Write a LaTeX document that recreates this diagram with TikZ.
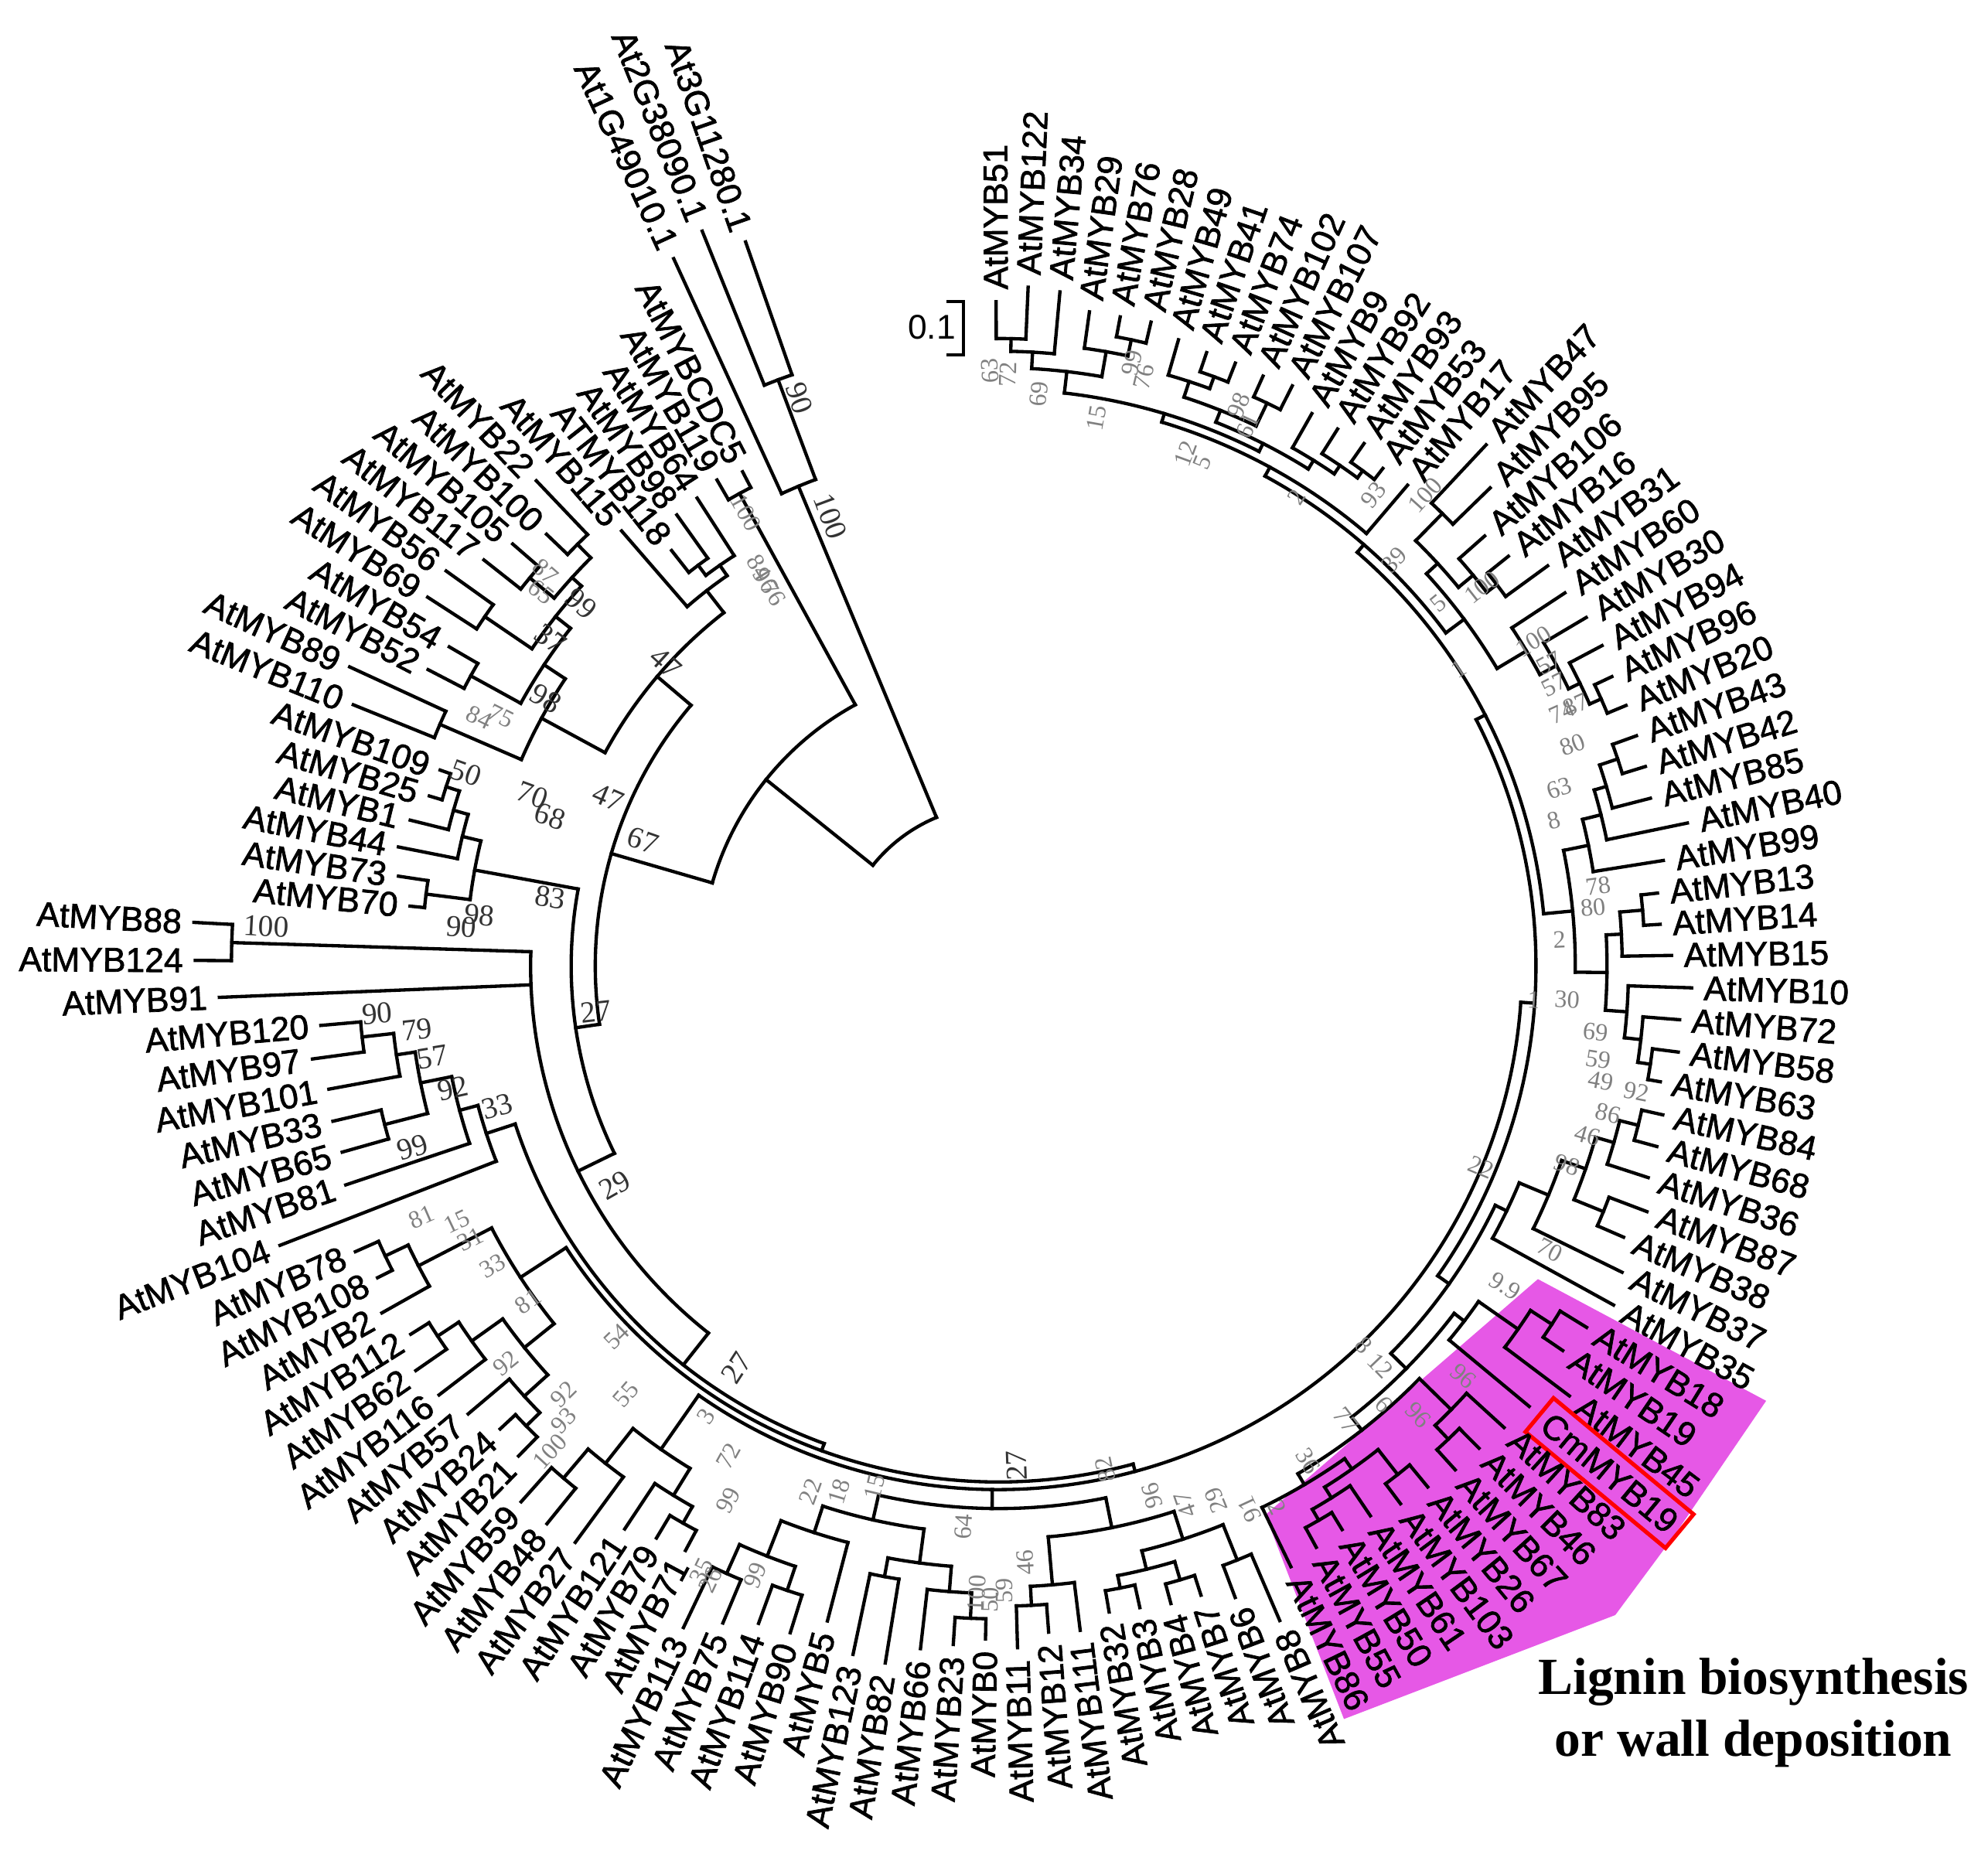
\documentclass[tikz,border=0pt]{standalone}
\usepackage{fontspec}
\setmainfont{Liberation Sans}
\newfontfamily\labfont[FakeBold=1.6]{Liberation Sans}
\newfontfamily\serifnum{Liberation Serif}
\definecolor{mag}{RGB}{230,88,230}
\newcommand\tang[1]{90.2-((#1)-1)*2.706}
\newcommand\tp[1]{(\csname LR#1\endcsname-9)}
\newcommand\nd[2]{%
  \foreach \ii/\rr [count=\k] in {#2}{%
    \pgfmathsetmacro\rrv{\rr}%
    \pgfmathsetmacro\aav{\tang{\ii}}%
    \draw[br] (\aav:#1) -- (\aav:\rrv);
    \ifnum\k=1 \xdef\cfirst{\aav}\fi
    \xdef\clast{\aav}%
  }%
  \draw[br] (\cfirst:#1) arc[start angle=\cfirst, end angle=\clast, radius=#1];%
}
\newcommand\bsn[4][bs]{%
  \pgfmathsetmacro\bph{atan2(762-#3,#2-787.5)}%
  \pgfmathsetmacro\brot{(\bph>95||\bph<-65)?\bph+180:\bph}%
  \node[#1,rotate=\brot] at (#2,-#3) {#4};}
\begin{document}
\begin{tikzpicture}[x=0.01cm,y=0.01cm,
  br/.style={line width=0.75pt, line cap=rect},
  lab/.style={font=\labfont\fontsize{7.7}{9}\selectfont, inner sep=0pt},
  bs/.style={font=\serifnum\fontsize{5.6}{6}\selectfont, text=black!50, inner sep=0pt},
  bsd/.style={font=\serifnum\fontsize{6.8}{7}\selectfont, text=black!80, inner sep=0pt},
  redbox/.style={draw=red, line width=0.9pt, inner xsep=1.8pt, inner ysep=2.2pt}]
\useasboundingbox (0,0) rectangle (1568,-1462);
\fill[mag] (1213,-1009) -- (1393,-1105) -- (1320,-1212) -- (1274,-1274) -- (1060,-1356) -- (998,-1195) -- cycle;
\begin{scope}[shift={(787.5,-762)}]
\foreach \nm/\R [count=\i] in {AtMYB51/533,AtMYB122/545,AtMYB34/543,AtMYB29/530,AtMYB76/530,AtMYB28/531,AtMYB49/523,AtMYB41/520,AtMYB74/520,AtMYB102/519,AtMYB107/522,AtMYB9/510,AtMYB92/510,AtMYB93/512,AtMYB53/505,AtMYB17/507,AtMYB47/572,AtMYB95/550,AtMYB106/521,AtMYB16/525,AtMYB31/545,AtMYB60/544,AtMYB30/548,AtMYB94/548,AtMYB96/544,AtMYB20/545,AtMYB43/544,AtMYB42/543,AtMYB85/540,AtMYB40/564,AtMYB99/540,AtMYB13/532,AtMYB14/532,AtMYB15/540,AtMYB10/556,AtMYB72/548,AtMYB58/549.5,AtMYB63/539,AtMYB84/546,AtMYB68/547.5,AtMYB36/548,AtMYB87/556,AtMYB38/546.5,AtMYB37/557,AtMYB35/563,AtMYB18/553.5,AtMYB19/547.6,AtMYB45/572.7,CmMYB19/553,AtMYB83/549,AtMYB46/546,AtMYB67/545.4,AtMYB26/541.5,AtMYB103/538.6,AtMYB61/532.6,AtMYB50/529.7,AtMYB55/531.6,AtMYB86/536,AtMYB8/571,AtMYB6/541,AtMYB7/530.4,AtMYB4/530,AtMYB3/527.3,AtMYB32/526,AtMYB111/537,AtMYB12/536,AtMYB11/547,AtMYB0/540,AtMYB23/545.4,AtMYB66/551,AtMYB82/566,AtMYB123/564,AtMYB5/543,AtMYB90/560,AtMYB114/561,AtMYB75/571,AtMYB113/587,AtMYB71/532,AtMYB79/534.7,AtMYB121/542,AtMYB27/573,AtMYB48/575,AtMYB59/575,AtMYB21/550,AtMYB24/545.5,AtMYB57/556.5,AtMYB116/565,AtMYB62/568.5,AtMYB112/556,AtMYB2/567,AtMYB108/557,AtMYB78/564,AtMYB104/617,AtMYB81/552,AtMYB65/547,AtMYB33/548,AtMYB101/546,AtMYB97/555,AtMYB120/545.5,AtMYB91/624,AtMYB124/642.5,AtMYB88/644.5,AtMYB70/475.5,AtMYB73/487.5,AtMYB44/491.5,AtMYB1/487,AtMYB25/477.5,AtMYB109/475.7,AtMYB110/558,AtMYB89/572.5,AtMYB52/516,AtMYB54/510,AtMYB69/545,AtMYB56/544.6,AtMYB117/526,AtMYB105/516.5,AtMYB100/502,AtMYB22/537.6,AtMYB115/463,ATMYB118/426,AtMYB98/446,AtMYB64/448,AtMYB119/452,AtMYBCDC5/448,At1G49010.1/623,At2G38090.1/634,At3G11280.1/614}{%
  \expandafter\xdef\csname LR\i\endcsname{\R}%
  \pgfmathsetmacro\th{\tang{\i}}%
  \ifnum\i=49 \tikzset{cur/.style={redbox}}\else\tikzset{cur/.style={}}\fi
  \ifnum\i<59
    \node[lab,cur,anchor=west,rotate=\th] (L\i) at (\th:\R) {\nm};
  \else
    \pgfmathsetmacro\thh{\th+180}%
    \node[lab,anchor=east,rotate=\thh] (L\i) at (\th:\R) {\nm};
  \fi
}
% outgroup and root
\nd{494}{126/\tp{126},127/\tp{127}}
\nd{410}{125/\tp{125},126.5/494}
\nd{127}{125.75/410,115.17/235}
% ingroup
\nd{235}{123.5/425,106.84/318}
\nd{425}{123/\tp{123},124/\tp{124}}
\nd{318}{115.75/353,97.78/337}
\nd{353}{111.375/410,120.125/375}
\nd{410}{109.5/480,113.25/430}
\nd{480}{109/\tp{109},110/\tp{110}}
\nd{430}{111.5/475,115/445}
\nd{475}{111/\tp{111},112/\tp{112}}
\nd{445}{113.5/490,116.5/455}
\nd{490}{113/\tp{113},114/\tp{114}}
\nd{455}{115.5/480,117.5/470}
\nd{480}{115/\tp{115},116/\tp{116}}
\nd{470}{117/\tp{117},118/\tp{118}}
\nd{375}{119/\tp{119},121.25/385}
\nd{385}{120.5/395,122/\tp{122}}
\nd{395}{120/\tp{120},121/\tp{121}}
\nd{337}{104.69/420,91.24/369}
\nd{420}{103.5/455,105.875/435}
\nd{455}{103/\tp{103},104/\tp{104}}
\nd{435}{105/\tp{105},106.75/447}
\nd{447}{106/\tp{106},107.5/458}
\nd{458}{107/\tp{107},108/\tp{108}}
\nd{369}{101.5/605,100/\tp{100},81.75/401}
\nd{605}{101/\tp{101},102/\tp{102}}
\nd{401}{94.16/425,75/407}
\nd{425}{93/\tp{93},95.31/440}
\nd{440}{94/\tp{94},96.625/465}
\nd{465}{95.5/500,97.75/480}
\nd{500}{95/\tp{95},96/\tp{96}}
\nd{480}{97/\tp{97},98.5/505}
\nd{505}{98/\tp{98},99/\tp{99}}
\nd{407}{88.625/450,62/413}
\nd{450}{86.5/480,90.75/515}
\nd{480}{85.25/505,87.75/510}
\nd{505}{84.5/520,86/\tp{86}}
\nd{520}{84/\tp{84},85/\tp{85}}
\nd{510}{87/\tp{87},88.5/530}
\nd{530}{88/\tp{88},89/\tp{89}}
\nd{515}{90/\tp{90},91.5/535}
\nd{535}{91/\tp{91},92/\tp{92}}
\nd{413}{80.5/465,67.84/428,35.8/424}
\nd{465}{79.25/490,81.75/500}
\nd{490}{78.5/505,80/\tp{80}}
\nd{505}{78/\tp{78},79/\tp{79}}
\nd{500}{81/\tp{81},82.5/530}
\nd{530}{82/\tp{82},83/\tp{83}}
\nd{428}{72.31/448,63.375/452}
\nd{448}{74.25/470,70.375/475}
\nd{470}{73/\tp{73},75.5/500}
\nd{500}{74.5/520,76.5/525}
\nd{520}{74/\tp{74},75/\tp{75}}
\nd{525}{76/\tp{76},77/\tp{77}}
\nd{475}{69.25/495,71.5/490}
\nd{495}{68.5/515,70/\tp{70}}
\nd{515}{68/\tp{68},69/\tp{69}}
\nd{490}{71/\tp{71},72/\tp{72}}
\nd{452}{65.75/490,61/475}
\nd{490}{65/\tp{65},66.5/505}
\nd{505}{66/\tp{66},67/\tp{67}}
\nd{475}{59.5/505,62.5/490}
\nd{505}{59/\tp{59},60/\tp{60}}
\nd{490}{61.5/505,63.5/500}
\nd{505}{61/\tp{61},62/\tp{62}}
\nd{500}{63/\tp{63},64/\tp{64}}
\nd{424}{47.34/435,24.25/432}
\nd{435}{43.84/445,50.83/452}
\nd{445}{42.69/470,45/\tp{45}}
\nd{470}{41.375/490,44/\tp{44}}
\nd{490}{40.25/505,42.5/515}
\nd{505}{39.5/520,41/\tp{41}}
\nd{520}{39/\tp{39},40/\tp{40}}
\nd{515}{42/\tp{42},43/\tp{43}}
\nd{452}{48.125/462,53.53/465}
\nd{462}{47.25/500,49/\tp{49}}
\nd{500}{46.5/520,48/\tp{48}}
\nd{520}{46/\tp{46},47/\tp{47}}
\nd{465}{50.75/500,56.31/475}
\nd{500}{50/\tp{50},51.5/515}
\nd{515}{51/\tp{51},52/\tp{52}}
\nd{475}{54.625/485,58/\tp{58}}
\nd{485}{53.5/510,55.75/495}
\nd{510}{53/\tp{53},54/\tp{54}}
\nd{495}{55/\tp{55},56.5/505}
\nd{505}{56/\tp{56},57/\tp{57}}
\nd{432}{32.31/455,16.2/440}
\nd{455}{30.06/475,34.56/480}
\nd{475}{29.125/490,31/\tp{31}}
\nd{490}{28.25/500,30/\tp{30}}
\nd{500}{27.5/515,29/\tp{29}}
\nd{515}{27/\tp{27},28/\tp{28}}
\nd{480}{33.25/492,35.875/497}
\nd{492}{32.5/510,34/\tp{34}}
\nd{510}{32/\tp{32},33/\tp{33}}
\nd{497}{35/\tp{35},36.75/510}
\nd{510}{36/\tp{36},37.5/520}
\nd{520}{37/\tp{37},38/\tp{38}}
\nd{440}{20.78/458,11.625/448}
\nd{458}{18.625/470,22.94/485}
\nd{470}{17.5/500,19.75/485}
\nd{500}{17/\tp{17},18/\tp{18}}
\nd{485}{19/\tp{19},20.5/495}
\nd{495}{20/\tp{20},21/\tp{21}}
\nd{485}{22/\tp{22},23.875/500}
\nd{500}{23/\tp{23},24.75/510}
\nd{510}{24/\tp{24},25.5/520}
\nd{520}{25/\tp{25},26/\tp{26}}
\nd{448}{7.25/455,16/\tp{16}}
\nd{455}{3.5/472,11/462}
\nd{472}{2.25/485,4.75/492}
\nd{485}{1.5/495,3/\tp{3}}
\nd{495}{1/\tp{1},2/\tp{2}}
\nd{492}{4/\tp{4},5.5/505}
\nd{505}{5/\tp{5},6/\tp{6}}
\nd{462}{9.125/472,12.875/470}
\nd{472}{7.75/485,10.5/492}
\nd{485}{7/\tp{7},8.5/495}
\nd{495}{8/\tp{8},9/\tp{9}}
\nd{492}{10/\tp{10},11/\tp{11}}
\nd{470}{12/\tp{12},13.75/478}
\nd{478}{13/\tp{13},14.5/485}
\nd{485}{14/\tp{14},15/\tp{15}}
\end{scope}
% bootstrap values
\bsn[bsd]{654.9}{407.4}{100}\bsn[bsd]{630.4}{314}{90}\bsn[bsd]{507}{663}{67}\bsn[bsd]{480}{629}{47}
\bsn[bsd]{470}{798}{27}\bsn[bsd]{485}{935}{29}\bsn[bsd]{802}{1156}{27}\bsn[bsd]{581}{1079}{27}
\bsn[bsd]{434}{708}{83}\bsn[bsd]{525}{523}{47}\bsn[bsd]{430.5}{551}{98}\bsn[bsd]{434}{504}{37}
\bsn[bsd]{458.5}{476}{99}\bsn[bsd]{210}{731}{100}\bsn[bsd]{297.5}{799.5}{90}\bsn[bsd]{329}{812}{79}
\bsn[bsd]{341}{834}{57}\bsn[bsd]{357}{858.6}{92}\bsn[bsd]{325.5}{905}{99}\bsn[bsd]{392}{872.6}{33}
\bsn[bsd]{420}{627}{70}\bsn[bsd]{434}{644}{68}\bsn[bsd]{367.5}{609.8}{50}\bsn[bsd]{364}{731}{90}
\bsn[bsd]{378}{721.8}{98}\bsn{378}{566}{84}\bsn{395}{565}{75}\bsn{427}{467}{65}\bsn{430.5}{451}{87}
\bsn{332.5}{960}{81}\bsn{360.5}{963.7}{15}\bsn{371}{977.6}{31}\bsn{388.5}{998.6}{33}\bsn{416.5}{1026.5}{81}
\bsn{486.5}{1054.4}{54}\bsn{399}{1075.3}{92}\bsn{444.5}{1099.8}{92}\bsn{444.5}{1120.7}{93}\bsn{434}{1145.1}{100}
\bsn{493.5}{1099.8}{55}\bsn{556.9}{1117}{3}\bsn{574.4}{1148.6}{72}\bsn{574.4}{1183.5}{99}
\bsn{553.4}{1239.4}{35}\bsn{560.4}{1246.4}{26}\bsn{595.4}{1242.9}{99}\bsn{639.2}{1176.6}{22}
\bsn{661.9}{1176.6}{18}\bsn{689.9}{1173.1}{15}\bsn{759.9}{1204.5}{64}\bsn{770.4}{1256.8}{100}
\bsn{781}{1262}{50}\bsn{792}{1255}{59}\bsn{808.9}{1232.4}{46}\bsn{871.9}{1159.1}{82}
\bsn{908.7}{1180}{96}\bsn{934.9}{1187}{47}\bsn{959.4}{1183.5}{29}\bsn{985.7}{1190.5}{91}
\bsn{1007.3}{1189.3}{2}\bsn{1031.8}{1152.7}{36}\bsn{1061.8}{1120.1}{77}\bsn{1091.7}{1107.9}{6}
\bsn{1075.4}{1061.2}{8}\bsn{1089}{1077.4}{12}\bsn{1154.3}{1085.6}{96}\bsn{1118.9}{1116.1}{96}
\bsn{1187}{1014.4}{9.9}\bsn{1222.4}{986}{70}\bsn{1168}{920.9}{22}\bsn{1236}{918.9}{98}
\bsn{1252.3}{895.5}{46}\bsn{1268.6}{878.4}{86}\bsn{1290.9}{861.3}{92}\bsn{1262.5}{852.7}{49}
\bsn{1260.4}{835.6}{59}\bsn{1258.4}{814.2}{69}\bsn{1236}{788.5}{30}\bsn{1209.6}{788.5}{1}
\bsn{1229.9}{741.5}{2}\bsn{1256.4}{715.8}{80}\bsn{1260.4}{698.7}{78}\bsn{1225.9}{647.3}{8}
\bsn{1230}{621.6}{63}\bsn{1240.1}{587.4}{80}\bsn{1232}{561.7}{74}\bsn{1221.8}{523.2}{57}
\bsn{1226}{540}{57}\bsn{1243}{556}{87}\bsn{1209.6}{506}{100}\bsn{1150.6}{527.5}{1}
\bsn{1134.4}{476}{5}\bsn{1169}{463.3}{100}\bsn{1099.8}{441.9}{39}\bsn{1124.2}{390.5}{100}
\bsn{1083.6}{390.5}{93}\bsn{780.9}{292.3}{63}\bsn{794.9}{295.5}{72}\bsn{819.4}{311}{69}
\bsn{864.9}{329.7}{15}\bsn{892.9}{286.1}{99}\bsn{902}{297}{76}\bsn{935}{357.7}{12}
\bsn{948}{365}{5}\bsn{977}{320}{98}\bsn{984}{335.9}{61}\bsn{1022.4}{391.9}{2}
\bsn{588.4}{404.3}{100}\bsn{598.9}{447.8}{84}\bsn{604}{458}{96}\bsn{610}{468}{76}
% scale bar
\draw[br] (747.6,-238) -- (760,-238) -- (760,-280) -- (747.6,-280);
\node[font=\fontsize{7.7}{9}\selectfont, inner sep=0pt] (sb) at (735,-258) {0.1};
% title
\node[font=\serifnum\bfseries\fontsize{11.7}{13.9}\selectfont, align=center] (ttl) at (1383,-1351) {Lignin biosynthesis\\or wall deposition};
\end{tikzpicture}
\end{document}
